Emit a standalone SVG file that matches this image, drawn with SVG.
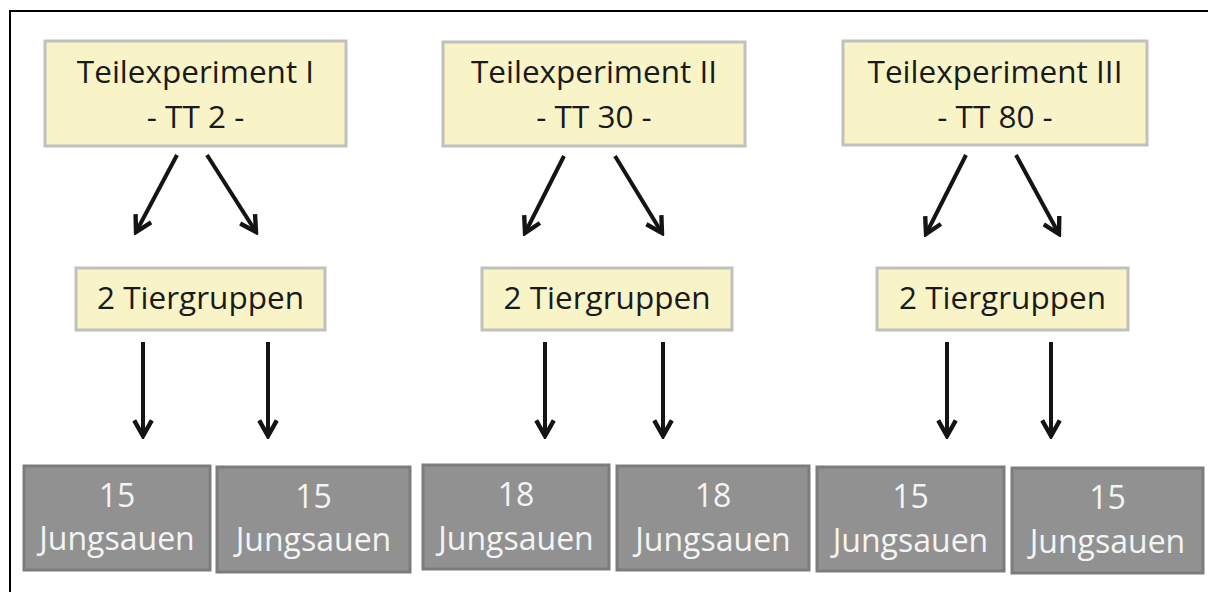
<svg xmlns="http://www.w3.org/2000/svg" width="1208" height="592" viewBox="0 0 1208 592">
<defs>
<style>
.y{fill:#f8f4c8;stroke:#c0c0bc;stroke-width:3}
.g{fill:#919191;stroke:#7c7c7c;stroke-width:3}
.t{font-family:"Open Sans","Noto Sans",sans-serif;font-size:31.5px;fill:#1a1a1a;text-anchor:middle}
.w{font-family:"Open Sans","Noto Sans",sans-serif;font-size:32px;fill:#f4f4f4;text-anchor:middle}
.c{stroke:#141414;stroke-width:4;fill:none}
</style>
<marker id="ah" viewBox="0 0 10 10" refX="8.6" refY="5" markerWidth="5.5" markerHeight="5.5" orient="auto" markerUnits="strokeWidth">
<path d="M1.5,1 L8.6,5 L1.5,9" fill="none" stroke="#141414" stroke-width="2"/>
</marker>
</defs>
<rect width="1208" height="592" fill="#fff"/>
<path d="M10,592 V11 H1208" fill="none" stroke="#000" stroke-width="2"/>

<g id="exp1"><rect class="y" x="45" y="41" width="301" height="105"/><text class="t" x="195.5" y="83">Teilexperiment I</text><text class="t" x="195.5" y="128">- TT 2 -</text></g>
<g id="exp2"><rect class="y" x="443" y="42" width="302" height="104"/><text class="t" x="594" y="83">Teilexperiment II</text><text class="t" x="594" y="128">- TT 30 -</text></g>
<g id="exp3"><rect class="y" x="843" y="41" width="304" height="104"/><text class="t" x="995" y="83">Teilexperiment III</text><text class="t" x="995" y="128">- TT 80 -</text></g>

<g id="grp1"><rect class="y" x="76" y="268" width="249" height="62"/><text class="t" x="200.5" y="309">2 Tiergruppen</text></g>
<g id="grp2"><rect class="y" x="482" y="268" width="250" height="62"/><text class="t" x="607" y="309">2 Tiergruppen</text></g>
<g id="grp3"><rect class="y" x="877" y="268" width="251" height="62"/><text class="t" x="1002.5" y="309">2 Tiergruppen</text></g>

<g id="s1"><rect class="g" x="24" y="466" width="186" height="104"/><text class="w" x="117" y="507">15</text><text class="w" x="117" y="550">Jungsauen</text></g>
<g id="s2"><rect class="g" x="217" y="467" width="193" height="105"/><text class="w" x="313.5" y="508">15</text><text class="w" x="313.5" y="551">Jungsauen</text></g>
<g id="s3"><rect class="g" x="423" y="465" width="186" height="104"/><text class="w" x="516" y="506">18</text><text class="w" x="516" y="550">Jungsauen</text></g>
<g id="s4"><rect class="g" x="617" y="466" width="192" height="104"/><text class="w" x="713" y="507">18</text><text class="w" x="713" y="551">Jungsauen</text></g>
<g id="s5"><rect class="g" x="817" y="467" width="187" height="104"/><text class="w" x="910.5" y="508">15</text><text class="w" x="910.5" y="552">Jungsauen</text></g>
<g id="s6"><rect class="g" x="1012" y="468" width="191" height="105"/><text class="w" x="1107.5" y="509">15</text><text class="w" x="1107.5" y="553">Jungsauen</text></g>

<g id="connectors" class="c">
<line x1="177" y1="155" x2="136" y2="232" marker-end="url(#ah)"/>
<line x1="207" y1="155" x2="256" y2="232" marker-end="url(#ah)"/>
<line x1="564" y1="156" x2="525" y2="233" marker-end="url(#ah)"/>
<line x1="615" y1="156" x2="662" y2="233" marker-end="url(#ah)"/>
<line x1="966" y1="155" x2="926" y2="234" marker-end="url(#ah)"/>
<line x1="1016" y1="155" x2="1059" y2="234" marker-end="url(#ah)"/>
<line x1="143" y1="342" x2="143" y2="436" marker-end="url(#ah)"/>
<line x1="268" y1="342" x2="268" y2="436" marker-end="url(#ah)"/>
<line x1="545" y1="342" x2="545" y2="436" marker-end="url(#ah)"/>
<line x1="663" y1="342" x2="663" y2="436" marker-end="url(#ah)"/>
<line x1="947" y1="342" x2="947" y2="436" marker-end="url(#ah)"/>
<line x1="1051" y1="342" x2="1051" y2="436" marker-end="url(#ah)"/>
</g>
</svg>
